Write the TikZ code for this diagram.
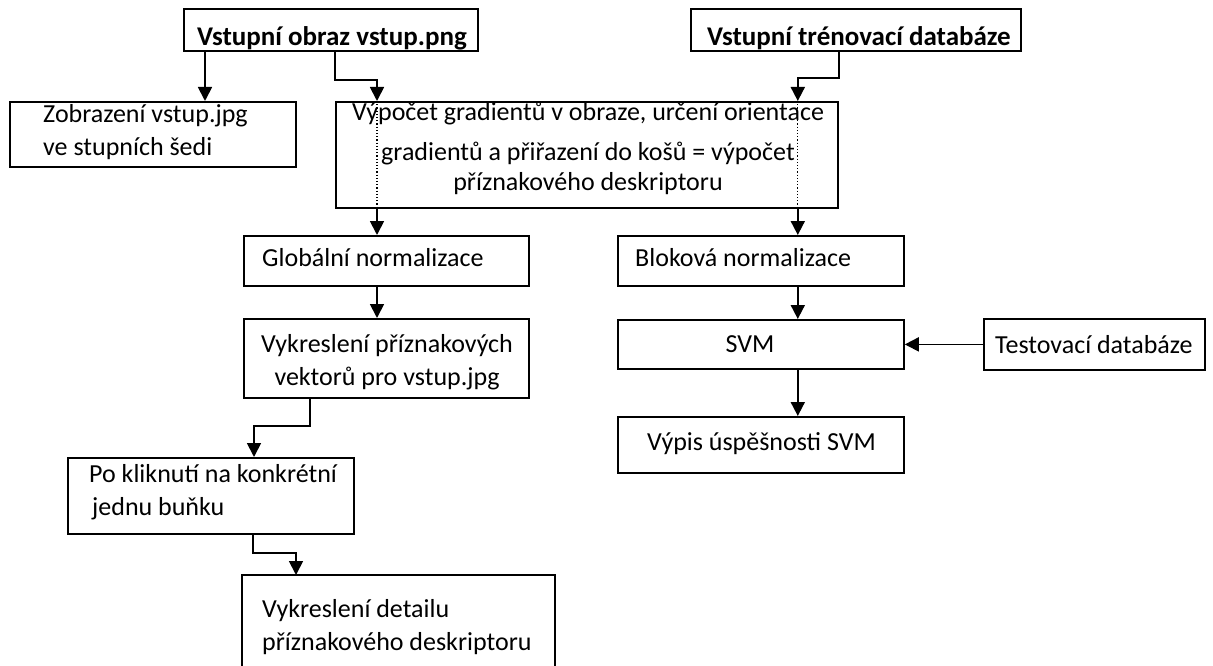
\documentclass[tikz,border=0pt]{standalone}
\usepackage{fontspec}
\setmainfont{Carlito}
\usetikzlibrary{arrows.meta}
\tikzset{
 box/.style={draw,line width=1.8pt,anchor=north west,inner sep=0pt},
 txt/.style={anchor=base west,inner sep=0pt,align=left},
 arr/.style={line width=1.8pt,-{Triangle[length=14pt,width=14pt]}},
 thru/.style={line width=1.2pt,dotted}
}
\begin{document}
\begin{tikzpicture}[x=1pt,y=-1pt,font=\fontsize{26}{33}\selectfont]
 \useasboundingbox (0,0) rectangle (1213,666);
 % frames: name/left/top/width/height
 \foreach \n/\x/\y/\w/\h in {img/183/8/294/42,db/690/8/330/42,gray/9/101/286/65,
   hog/335/101/502/106,glob/243/235/285/50,vec/243/318/285/79,click/67/457/286/76,
   block/617/235/286/50,svm/617/319/286/49,test/983/318/221/51,res/617/416/286/56}
   \node[box,minimum width=\w pt,minimum height=\h pt] (\n) at (\x,\y) {};
 \node[box,draw=none,minimum width=311pt,minimum height=120pt] (det) at (242,575) {};
 \draw[line width=1.8pt] (det.south west) |- (det.north east) -- (det.south east);
 % texts (multi-line ones sit on their last baseline)
 \node[txt,font=\fontsize{27}{33}\selectfont\bfseries] (imgt) at (197,46) {Vstupní obraz vstup.png};
 \node[txt,font=\fontsize{27}{33}\selectfont\bfseries] (dbt) at (707,46) {Vstupní trénovací databáze};
 \node[txt] (grayt) at (43,156) {Zobrazení vstup.jpg\\ve stupních šedi};
 \node[txt,anchor=base,align=center] (hogt) at (588,190)
   {Výpočet gradientů v obraze, určení orientace\\[7pt]gradientů a přiřazení do košů = výpočet\\[-3pt]příznakového deskriptoru};
 \node[txt] (globt) at (262,266) {Globální normalizace};
 \node[txt,anchor=base,align=center] (vect) at (387,385) {Vykreslení příznakových\\vektorů pro vstup.jpg};
 \node[txt] (clickt) at (89,515) {Po kliknutí na konkrétní\\\hspace*{3pt}jednu buňku};
 \node[txt] (dett) at (262,650) {Vykreslení detailu\\příznakového deskriptoru};
 \node[txt] (blockt) at (635,266) {Bloková normalizace};
 \node[txt,anchor=base] (svmt) at (750,352) {SVM};
 \node[txt] (testt) at (995,353) {Testovací databáze};
 \node[txt] (rest) at (647,450) {Výpis úspěšnosti SVM};
 % connectors
 \coordinate (lx) at ([xshift=42pt]hog.north west);
 \coordinate (rx) at ([xshift=-41pt]hog.north east);
 \draw[arr] ([xshift=22pt]img.south west) -- ([xshift=22pt]img.south west |- gray.north);
 \draw[arr] (img.south -| hog.west) |- ([yshift=21pt]lx) -- (lx);
 \draw[arr] (db.south -| hog.east) |- ([yshift=23pt]rx) -- (rx);
 \draw[thru] (lx) -- (lx |- hog.south);
 \draw[thru] (rx) -- (rx |- hog.south);
 \draw[arr] (lx |- hog.south) -- (lx |- glob.north);
 \draw[arr] (rx |- hog.south) -- (rx |- block.north);
 \draw[arr] (lx |- glob.south) -- (lx |- vec.north);
 \draw[arr] ([xshift=67pt]vec.south west) |- ([xshift=187pt,yshift=31pt]click.north west) -- ([xshift=187pt]click.north west);
 \draw[arr] ([xshift=186pt]click.south west) |- ([xshift=54pt,yshift=22pt]det.north west) -- ([xshift=54pt]det.north west);
 \draw[arr] (rx |- block.south) -- (rx |- svm.north);
 \draw[arr] (rx |- svm.south) -- (rx |- res.north);
 \draw[arr] (test.west) -- (svm.east);
\end{tikzpicture}
\end{document}
